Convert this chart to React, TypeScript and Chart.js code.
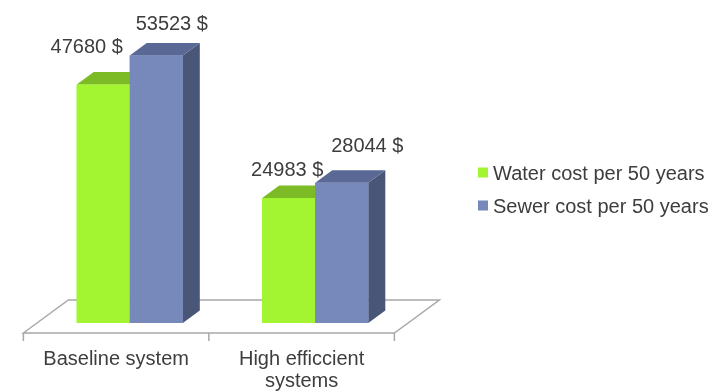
import React, { useEffect, useRef } from "react";
import { Chart, registerables } from "chart.js";

Chart.register(...registerables);

// Chart content
const categories: string[][] = [["Baseline system"], ["High efficcient", "systems"]];
const seriesNames = ["Water cost per 50 years", "Sewer cost per 50 years"];
const waterCost = [47680, 24983];
const sewerCost = [53523, 28044];
const valueSuffix = " $";

// Styling for the pseudo-3D look
const frontColors = ["#a2f530", "#7788bb"];
const topColors = ["#7dbb26", "#5a6896"];
const sideColors = ["#6fa520", "#4a5677"];
const textColor = "#3d3d3d";
const floorColor = "#a8a8a8";
const FONT = "20px 'Liberation Sans', Arial, sans-serif";

// depth vector of a bar and of the floor slab (pixels)
const BAR_DEPTH = { dx: 17, dy: -12.5 };
const FLOOR_DEPTH = { dx: 45, dy: -33 };
const FLOOR_FRONT_GAP = 10 / 33; // share of floor depth in front of the bars

// hand placement of each value label relative to its bar's top front edge
const labelShift: [number, number][][] = [
  [[-16.5, -32], [15.5, -25]],
  [[-1.5, -22], [25.5, -31]],
];

const threeD = {
  id: "threeD",
  beforeDatasetsDraw(chart: any) {
    const { ctx, chartArea } = chart;
    const fx = -FLOOR_DEPTH.dx * FLOOR_FRONT_GAP;
    const fy = -FLOOR_DEPTH.dy * FLOOR_FRONT_GAP;
    const l = chartArea.left + fx;
    const r = chartArea.right + fx;
    const y = chartArea.bottom + fy;
    ctx.save();
    ctx.strokeStyle = floorColor;
    ctx.lineWidth = 1.5;
    ctx.beginPath();
    ctx.moveTo(l, y);
    ctx.lineTo(l + FLOOR_DEPTH.dx, y + FLOOR_DEPTH.dy);
    ctx.lineTo(r + FLOOR_DEPTH.dx, y + FLOOR_DEPTH.dy);
    ctx.lineTo(r, y);
    ctx.closePath();
    ctx.stroke();
    // category ticks on the front edge
    const n = chart.data.labels.length;
    ctx.beginPath();
    for (let i = 0; i <= n; i++) {
      const tx = l + ((r - l) * i) / n;
      ctx.moveTo(tx, y);
      ctx.lineTo(tx, y + 8);
    }
    ctx.stroke();
    // category labels
    ctx.fillStyle = textColor;
    ctx.font = FONT;
    ctx.textAlign = "center";
    ctx.textBaseline = "alphabetic";
    const xs = chart.scales.x;
    categories.forEach((lines, i) => {
      const cx = xs.getPixelForValue(i) + fx;
      lines.forEach((line, j) => {
        ctx.fillText(line, cx, y + 31.5 + j * 22);
      });
    });
    ctx.restore();
  },
  afterDatasetsDraw(chart: any) {
    const { ctx } = chart;
    const metas = chart.data.datasets.map((_: any, i: number) => chart.getDatasetMeta(i));
    const n = chart.data.labels.length;
    ctx.save();
    for (let c = 0; c < n; c++) {
      metas.forEach((meta: any, d: number) => {
        const bar = meta.data[c];
        const { x, y, width, base } = bar.getProps(["x", "y", "width", "base"], true);
        const l = x - width / 2;
        const r = x + width / 2;
        const { dx, dy } = BAR_DEPTH;
        // side face
        ctx.fillStyle = sideColors[d];
        ctx.beginPath();
        ctx.moveTo(r, y);
        ctx.lineTo(r + dx, y + dy);
        ctx.lineTo(r + dx, base + dy);
        ctx.lineTo(r, base);
        ctx.closePath();
        ctx.fill();
        // top face
        ctx.fillStyle = topColors[d];
        ctx.beginPath();
        ctx.moveTo(l, y);
        ctx.lineTo(l + dx, y + dy);
        ctx.lineTo(r + dx, y + dy);
        ctx.lineTo(r, y);
        ctx.closePath();
        ctx.fill();
        // front face again so neighbours overlap correctly
        ctx.fillStyle = frontColors[d];
        ctx.fillRect(l, y, width, base - y);
      });
    }
    // value labels
    ctx.fillStyle = textColor;
    ctx.font = FONT;
    ctx.textAlign = "center";
    ctx.textBaseline = "alphabetic";
    for (let c = 0; c < n; c++) {
      metas.forEach((meta: any, d: number) => {
        const bar = meta.data[c];
        const { x, y } = bar.getProps(["x", "y"], true);
        const v = chart.data.datasets[d].data[c];
        const [sx, sy] = labelShift[c][d];
        ctx.fillText(`${v}${valueSuffix}`, x + sx, y + sy);
      });
    }
    // legend
    ctx.textAlign = "left";
    chart.data.datasets.forEach((ds: any, d: number) => {
      const ly = 172.5 + d * 33;
      ctx.fillStyle = frontColors[d];
      ctx.fillRect(478, ly - 5, 10, 10);
      ctx.fillStyle = textColor;
      ctx.fillText(ds.label, 493, ly + 7);
    });
    ctx.restore();
  },
};

export default function App() {
  const canvasRef = useRef<HTMLCanvasElement | null>(null);

  useEffect(() => {
    if (!canvasRef.current) return;
    const chart = new Chart(canvasRef.current, {
      type: "bar",
      data: {
        labels: categories.map((c) => c.join(" ")),
        datasets: [
          {
            label: seriesNames[0],
            data: waterCost,
            backgroundColor: frontColors[0],
            borderWidth: 0,
          },
          {
            label: seriesNames[1],
            data: sewerCost,
            backgroundColor: frontColors[1],
            borderWidth: 0,
          },
        ],
      },
      options: {
        animation: false,
        responsive: false,
        maintainAspectRatio: false,
        layout: { padding: { left: 37, right: 305, top: 23, bottom: 69 } },
        datasets: { bar: { barPercentage: 1, categoryPercentage: 0.572 } },
        scales: {
          x: { display: false, offset: true },
          y: { display: false, min: 0, max: 60000 },
        },
        plugins: {
          legend: { display: false },
          tooltip: { enabled: false },
        },
      },
      plugins: [threeD],
    });
    return () => chart.destroy();
  }, []);

  return (
    <div style={{ position: "absolute", left: 0, top: 0, width: 713, height: 392, background: "#fff" }}>
      <canvas ref={canvasRef} width={713} height={392} />
    </div>
  );
}
